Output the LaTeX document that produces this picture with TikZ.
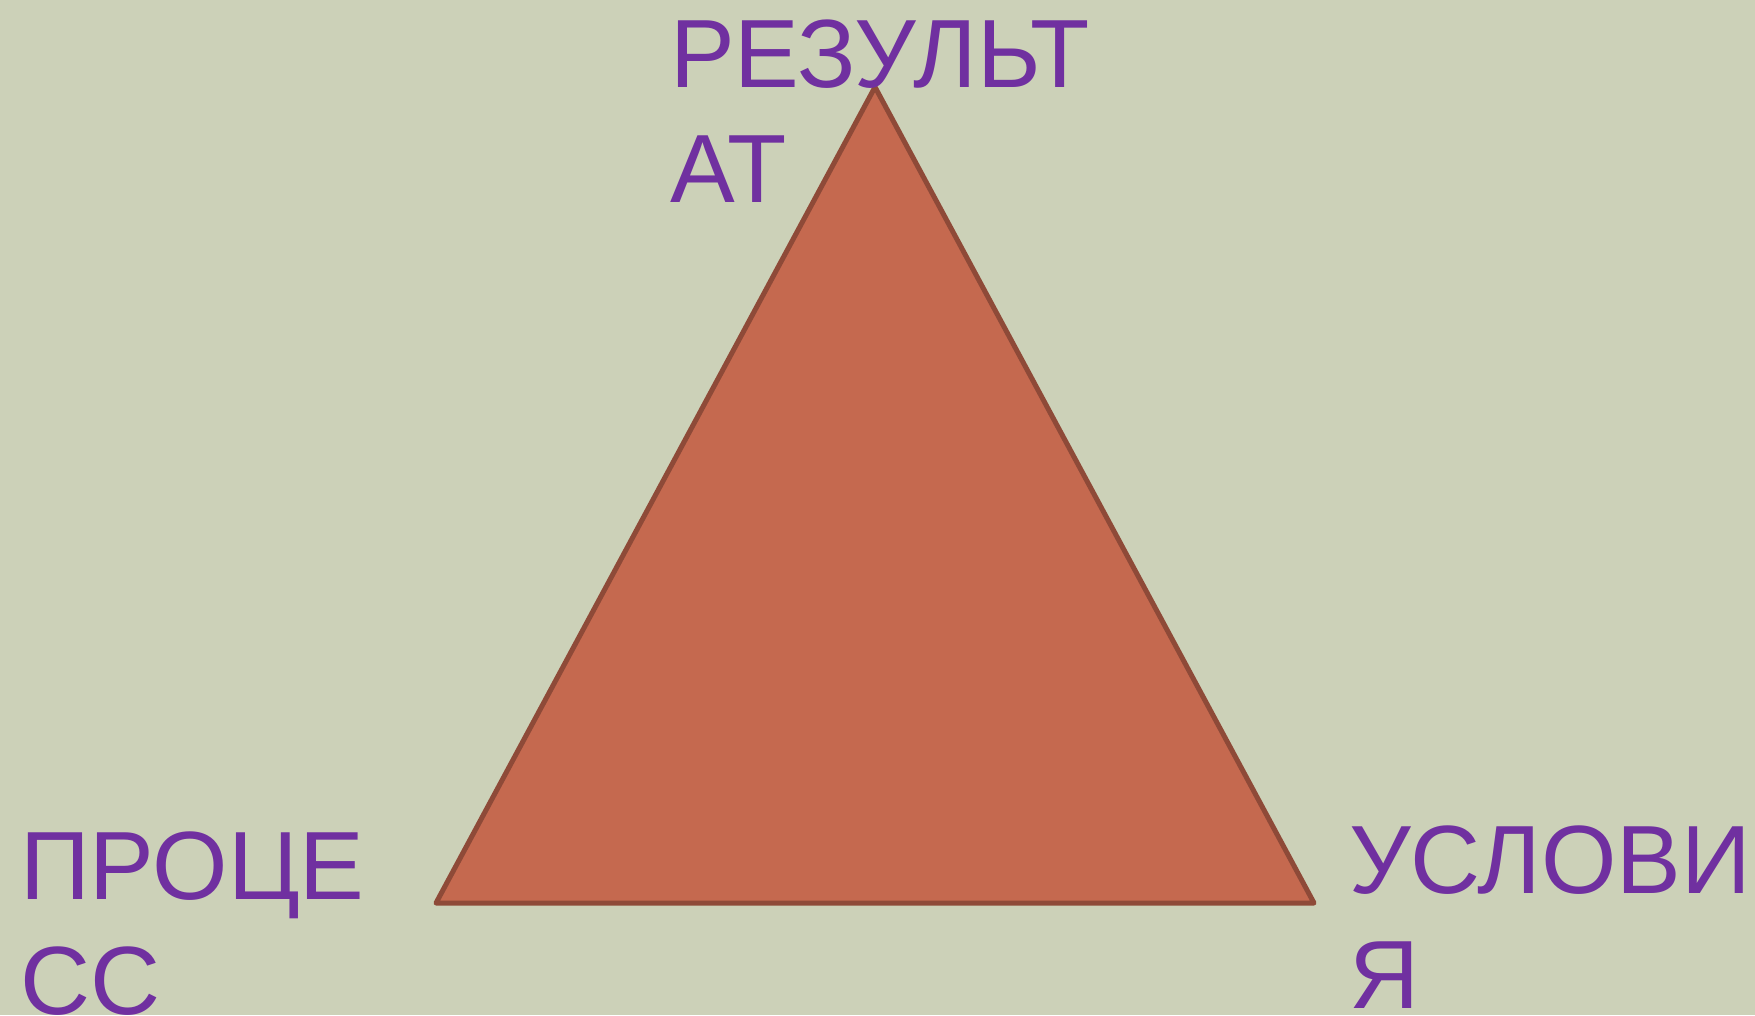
\documentclass[tikz,border=0pt]{standalone}
\usepackage{fontspec}
\setmainfont{Liberation Sans}
\definecolor{bgcol}{HTML}{CCD1B8}
\definecolor{trifill}{HTML}{C5694F}
\definecolor{triline}{HTML}{8E4A38}
\definecolor{labcol}{HTML}{7030A0}
\tikzset{
  corner/.style={inner sep=0pt, anchor=base west, align=left, text=labcol,
    font=\fontsize{97}{115}\selectfont},
  trishape/.style={fill=trifill, draw=triline, line width=5pt, line join=round}
}
\begin{document}
\begin{tikzpicture}[x=1pt,y=-1pt]
\fill[bgcol] (0,0) rectangle (1755,1015);
\useasboundingbox (0,0) rectangle (1755,1015);
\coordinate (top) at (875,87);
\coordinate (left) at (436,903);
\coordinate (right) at (1314,903);
\draw[trishape] (top) -- (right) -- (left) -- cycle;
% anchor is the baseline of the second line
\node[corner] (result) at (670,202) {РЕЗУЛЬТ\\АТ};
\node[corner] (process) at (20,1014) {ПРОЦЕ\\СС};
\node[corner] (cond) at (1349,1008) {УСЛОВИ\\Я};
\end{tikzpicture}
\end{document}
